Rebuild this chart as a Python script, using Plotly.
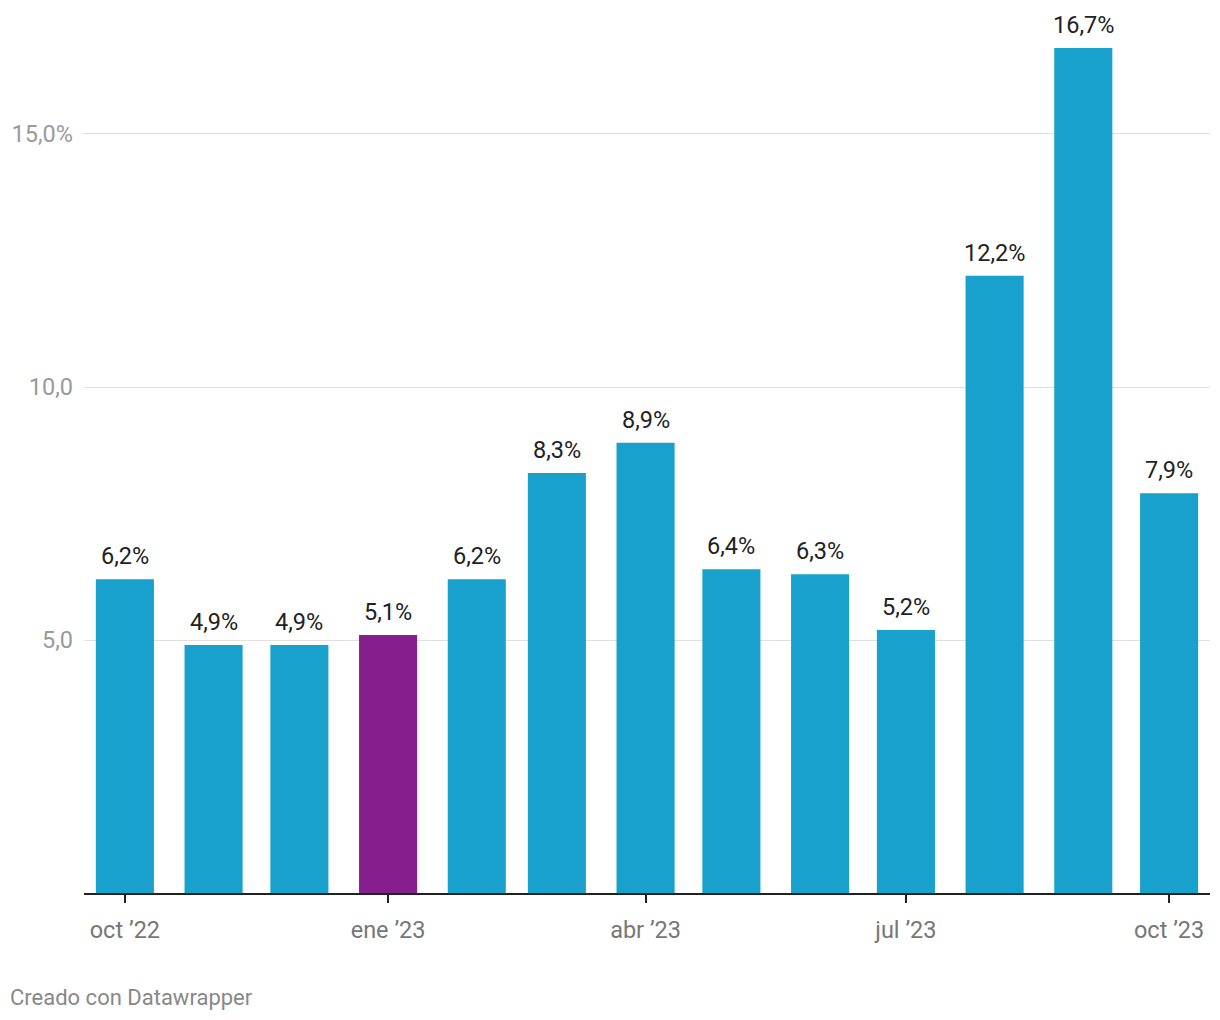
import plotly.graph_objects as go

months = ["2022-10-01", "2022-11-01", "2022-12-01", "2023-01-01", "2023-02-01",
          "2023-03-01", "2023-04-01", "2023-05-01", "2023-06-01", "2023-07-01",
          "2023-08-01", "2023-09-01", "2023-10-01"]
values = [6.2, 4.9, 4.9, 5.1, 6.2, 8.3, 8.9, 6.4, 6.3, 5.2, 12.2, 16.7, 7.9]
highlight_month = "2023-01-01"

x_tick_vals = ["2022-10-01", "2023-01-01", "2023-04-01", "2023-07-01", "2023-10-01"]
x_tick_text = ["oct ’22", "ene ’23", "abr ’23", "jul ’23", "oct ’23"]
y_tick_vals = [5, 10, 15]
y_tick_text = ["5,0", "10,0", "15,0%"]

BLUE = "#18a1cd"
PURPLE = "#861f8e"
FONT = "Roboto"

colors = [PURPLE if m == highlight_month else BLUE for m in months]
labels = [f"{v:.1f}".replace(".", ",") + "%" for v in values]

# page has 8px body margin; figure sized/positioned to compensate
W, H = 1212, 1012
ML, MR, MT, MB = 76, 10, 0, 127
PW = W - ML - MR
PH = H - MT - MB

DAY_MS = 86400000
fig = go.Figure(go.Bar(
    x=months, y=values, marker_color=colors, marker_line_width=0,
    width=[20.3 * DAY_MS] * len(months), hoverinfo="skip",
))

for m, v, t in zip(months, values, labels):
    fig.add_annotation(x=m, y=v, text=t, showarrow=False, yanchor="bottom",
                       yshift=7, font=dict(family=FONT, size=23.5, color="#222222"))

fig.add_annotation(xref="paper", yref="paper", x=-ML / PW, y=-(989 - PH) / PH,
                   xanchor="left", yanchor="middle", text="Creado con Datawrapper",
                   showarrow=False, xshift=0,
                   font=dict(family=FONT, size=22, color="#888888"))

fig.update_layout(
    width=W, height=H,
    margin=dict(l=ML, r=MR, t=MT, b=MB),
    plot_bgcolor="white", paper_bgcolor="white",
    showlegend=False,
    font=dict(family=FONT),
    xaxis=dict(
        type="date",
        range=["2022-09-16 17:00", "2023-10-15 07:00"],
        tickvals=x_tick_vals, ticktext=x_tick_text,
        showgrid=False, showline=True, linecolor="#222222", linewidth=2,
        ticks="outside", ticklen=8, tickwidth=2, tickcolor="#222222",
        tickfont=dict(family=FONT, size=23.5, color="#777777"),
        ticklabelstandoff=7,
    ),
    yaxis=dict(
        range=[0, 17.49],
        tickvals=y_tick_vals, ticktext=y_tick_text,
        showgrid=True, gridcolor="#e0e0e0", gridwidth=1,
        zeroline=False, showline=False, ticks="",
        tickfont=dict(family=FONT, size=23.5, color="#9a9a9a"),
        ticklabelstandoff=10,
    ),
)

fig.write_html("out.html")
